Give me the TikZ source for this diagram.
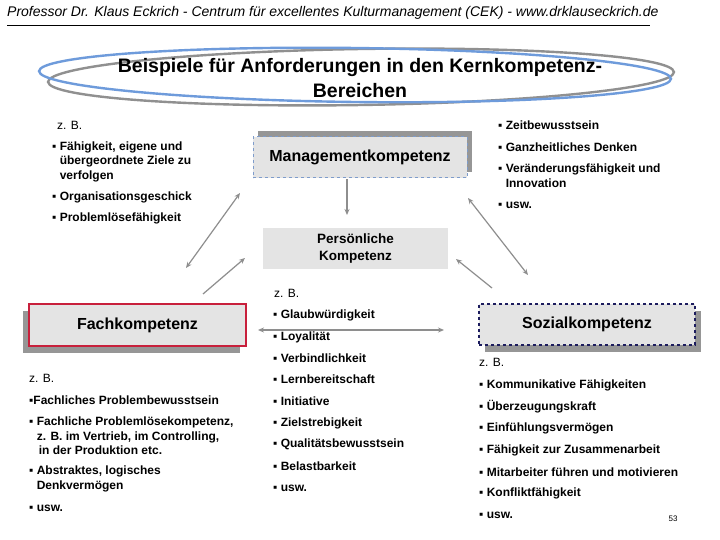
\documentclass[tikz,border=0pt]{standalone}
\usepackage{fontspec}
\setmainfont{Liberation Sans}
\usetikzlibrary{arrows.meta,shadows}
\definecolor{boxfill}{HTML}{E4E4E4}
\definecolor{shadowgray}{HTML}{969696}
\definecolor{arrgray}{HTML}{8E8E8E}
\definecolor{mgmtblue}{HTML}{7E9CCB}
\definecolor{fachred}{HTML}{C8203C}
\definecolor{sozblue}{HTML}{1C1C5E}
\definecolor{ellblue}{HTML}{6E9BDB}
\definecolor{ellgray}{HTML}{909090}
\newcommand{\bul}{▪}
\begin{document}
\begin{tikzpicture}[x=1pt,y=-1pt,
  item/.style={anchor=west, inner sep=0pt, font=\fontsize{12}{14.5}\selectfont\bfseries, align=left},
  zb/.style={anchor=west, inner sep=0pt, font=\fontsize{12}{14}\selectfont},
  kbox/.style={fill=boxfill, minimum width=#1, inner sep=0pt, font=\fontsize{16}{17}\selectfont\bfseries},
  arr/.style={draw=arrgray, line width=1.2pt, -{Stealth[length=6pt,width=5pt]}},
  darr/.style={draw=arrgray, line width=1.2pt, {Stealth[length=6pt,width=5pt]}-{Stealth[length=6pt,width=5pt]}}]
\useasboundingbox[fill=white] (0,0) rectangle (720,540);

% header
\node[anchor=west, inner sep=0pt, font=\fontsize{14}{16}\selectfont\itshape] (header) at (7,13)
  {Professor Dr. Klaus Eckrich - Centrum für excellentes Kulturmanagement (CEK) - www.drklauseckrich.de};
\coordinate (hlA) at (7,25);
\coordinate (hlB) at (650,25);
\draw[line width=0.8pt] (hlA) -- (hlB);

% title ellipses
\draw[ellgray, line width=2.4pt, rotate around={0.9:(361,77)}] (361,77) ellipse [x radius=313, y radius=28];
\draw[ellblue, line width=2.4pt, rotate around={-0.7:(355,75)}] (355,75) ellipse [x radius=316, y radius=27];
\node[align=center, inner sep=0pt, font=\fontsize{19.5}{25}\selectfont\bfseries] (title) at (360,78)
  {Beispiele für Anforderungen in den Kernkompetenz-\\Bereichen};

% boxes
\node[kbox=214pt, minimum height=41pt, draw=mgmtblue, dashed, line width=1pt,
  drop shadow={shadow xshift=5pt, shadow yshift=6pt, fill=shadowgray, opacity=1}] (mgmt) at (360,157.5) {Managementkompetenz};
\node[kbox=185pt, minimum height=41pt, align=center, font=\fontsize{13.5}{17}\selectfont\bfseries] (pers) at (355.5,248.5) {Persönliche\\Kompetenz};
\node[kbox=217pt, minimum height=42pt, draw=fachred, line width=1.5pt,
  drop shadow={shadow xshift=-6pt, shadow yshift=-7pt, fill=shadowgray, opacity=1}] (fach) at (137.5,325) {Fachkompetenz};
\node[kbox=216pt, minimum height=41pt, draw=sozblue, dashed, line width=1.2pt,
  drop shadow={shadow xshift=6pt, shadow yshift=-7pt, fill=shadowgray, opacity=1}] (soz) at (587,324.5) {Sozialkompetenz};

% Management lists
\node[zb] (mzb) at (57,125) {z. B.};
\node[item] (m1) at (52,161.5) {\bul\ Fähigkeit, eigene und\\\phantom{\bul\ }übergeordnete Ziele zu\\\phantom{\bul\ }verfolgen};
\node[item] (m2) at (52,197) {\bul\ Organisationsgeschick};
\node[item] (m3) at (52,218) {\bul\ Problemlösefähigkeit};
\node[item] (m4) at (498,125) {\bul\ Zeitbewusstsein};
\node[item] (m5) at (498,147) {\bul\ Ganzheitliches Denken};
\node[item] (m6) at (498,175.5) {\bul\ Veränderungsfähigkeit und\\\phantom{\bul\ }Innovation};
\node[item] (m7) at (498,205) {\bul\ usw.};

% Fach list
\node[zb] (fzb) at (29,378) {z. B.};
\node[item] (f1) at (29,400) {\bul Fachliches Problembewusstsein};
\node[item] (f2) at (29,436) {\bul\ Fachliche Problemlösekompetenz,\\\phantom{\bul\ }z. B. im Vertrieb, im Controlling,\\\phantom{\bul\ }\,in der Produktion etc.};
\node[item] (f3) at (29,479) {\bul\ Abstraktes, logisches\\\phantom{\bul\ }Denkvermögen};
\node[item] (f4) at (29,508) {\bul\ usw.};

% Persönliche list
\node[zb] (pzb) at (274,293) {z. B.};
\node[item] (p1) at (273,315) {\bul\ Glaubwürdigkeit};
\node[item] (p2) at (273,337) {\bul\ Loyalität};
\node[item] (p3) at (273,358) {\bul\ Verbindlichkeit};
\node[item] (p4) at (273,379) {\bul\ Lernbereitschaft};
\node[item] (p5) at (273,401) {\bul\ Initiative};
\node[item] (p6) at (273,423) {\bul\ Zielstrebigkeit};
\node[item] (p7) at (273,444) {\bul\ Qualitätsbewusstsein};
\node[item] (p8) at (273,466) {\bul\ Belastbarkeit};
\node[item] (p9) at (273,488) {\bul\ usw.};

% Sozial list
\node[zb] (szb) at (479,362) {z. B.};
\node[item] (s1) at (479,385) {\bul\ Kommunikative Fähigkeiten};
\node[item] (s2) at (479,407) {\bul\ Überzeugungskraft};
\node[item] (s3) at (479,428) {\bul\ Einfühlungsvermögen};
\node[item] (s4) at (479,450) {\bul\ Fähigkeit zur Zusammenarbeit};
\node[item] (s5) at (479,472) {\bul\ Mitarbeiter führen und motivieren};
\node[item] (s6) at (479,493) {\bul\ Konfliktfähigkeit};
\node[item] (s7) at (479,515) {\bul\ usw.};

% page number
\node[inner sep=0pt, font=\fontsize{8}{10}\selectfont] (pg) at (673,519) {53};

% arrows
\coordinate (dA) at (347,179);
\coordinate (dB) at (347,215);
\draw[arr] (dA) -- (dB);
\coordinate (l1a) at (186,268);
\coordinate (l1b) at (240,193);
\draw[darr] (l1a) -- (l1b);
\coordinate (l2a) at (203,294);
\coordinate (l2b) at (245,258);
\draw[arr] (l2a) -- (l2b);
\coordinate (r1a) at (468,198);
\coordinate (r1b) at (528,275);
\draw[darr] (r1a) -- (r1b);
\coordinate (r2a) at (492,288);
\coordinate (r2b) at (456,259);
\draw[arr] (r2a) -- (r2b);
\coordinate (hA) at (258,330);
\coordinate (hB) at (444,330);
\draw[darr] (hA) -- (hB);
\end{tikzpicture}
\end{document}
